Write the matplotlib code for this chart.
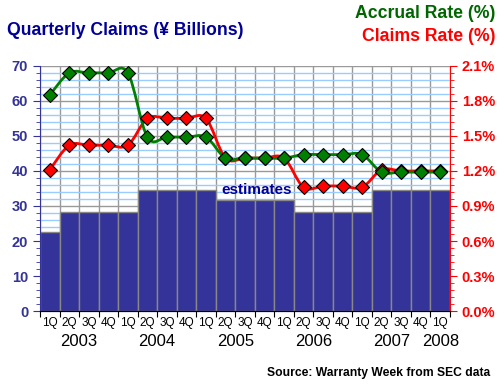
import numpy as np
import matplotlib.pyplot as plt
from matplotlib.path import Path
from matplotlib.patches import PathPatch

plt.rcParams['font.family'] = ['Liberation Sans', 'DejaVu Sans']

quarters = ['1Q', '2Q', '3Q', '4Q'] * 5 + ['1Q']
years = ['2003', '2004', '2005', '2006', '2007', '2008']
claims = [22.6, 28.3, 28.3, 28.3, 28.3, 34.6, 34.6, 34.6, 34.6, 31.7, 31.7,
          31.7, 31.7, 28.4, 28.4, 28.4, 28.4, 34.6, 34.6, 34.6, 34.6]
accrual = [1.85, 2.04, 2.04, 2.04, 2.04, 1.49, 1.49, 1.49, 1.49, 1.31, 1.31,
           1.31, 1.31, 1.34, 1.34, 1.34, 1.34, 1.19, 1.19, 1.19, 1.19]
claims_rate = [1.21, 1.42, 1.42, 1.42, 1.42, 1.65, 1.65, 1.65, 1.65, 1.31, 1.31,
               1.31, 1.31, 1.06, 1.07, 1.07, 1.06, 1.21, 1.20, 1.20, 1.20]

navy = '#333399'
fig = plt.figure(figsize=(5, 3.85), dpi=100)
ax = fig.add_axes([0.08, 0.192, 0.82, 0.637])
x = np.arange(len(claims))

ax.bar(x, claims, width=1.0, color=navy, edgecolor='#888888', linewidth=1, zorder=2)
ax.set_xlim(-0.5, len(claims) - 0.5)
ax.set_ylim(0, 70)
ax.set_yticks(range(0, 71, 10))
ax.set_yticks(range(0, 71, 2), minor=True)
ax.grid(True, which='minor', axis='y', color='#99ccff', lw=1, zorder=0)
ax.grid(True, which='major', axis='y', color='#999999', lw=1, zorder=0)
ax.set_xticks(np.arange(-0.5, len(claims), 1))
ax.set_xticklabels([])
ax.grid(True, which='major', axis='x', color='#999999', lw=1, zorder=0)
ax.set_axisbelow(True)
ax.tick_params(axis='y', which='both', colors=navy, labelsize=10.5, direction='out')
ax.tick_params(axis='y', which='major', length=5)
ax.tick_params(axis='y', which='minor', length=3)
ax.tick_params(axis='x', length=4, color='black')
for lab in ax.get_yticklabels():
    lab.set_fontweight('bold')
ax.spines['left'].set_color(navy)
ax.spines['right'].set_visible(False)
ax.spines['top'].set_visible(False)

for i, q in enumerate(quarters):
    ax.text(i, -1.6, q, ha='center', va='top', fontsize=8.5)
for j, yr in enumerate(years):
    xc = 4 * j + 1.5 if j < 5 else 20
    ax.text(xc, -6.6, yr, ha='center', va='top', fontsize=12)

ax.text(8.8, 34.6, 'estimates', ha='left', va='center', fontsize=11,
        fontweight='bold', color='#000099', zorder=5)

ax2 = ax.twinx()
ax2.set_ylim(0, 2.1)
ax2.set_yticks(np.arange(0, 2.11, 0.3))
ax2.set_yticks(np.arange(0, 2.11, 0.06), minor=True)
ax2.set_yticklabels(['%.1f%%' % v for v in np.arange(0, 2.11, 0.3)])
ax2.tick_params(axis='y', which='both', colors='red', labelsize=10.5)
ax2.tick_params(axis='y', which='major', length=5)
ax2.tick_params(axis='y', which='minor', length=3)
for lab in ax2.get_yticklabels():
    lab.set_fontweight('bold')
ax2.spines['right'].set_color('red')
ax2.spines['left'].set_visible(False)
ax2.spines['top'].set_visible(False)


def smooth(axis, xs, ys, color):
    # bezier path through the points (Excel style smoothed line)
    xs = list(xs)
    ys = list(ys)
    n = len(xs)
    verts = [(xs[0], ys[0])]
    codes = [Path.MOVETO]
    for i in range(n - 1):
        i0 = max(i - 1, 0)
        i3 = min(i + 2, n - 1)
        c1 = (xs[i] + (xs[i + 1] - xs[i0]) / 6, ys[i] + (ys[i + 1] - ys[i0]) / 6)
        c2 = (xs[i + 1] - (xs[i3] - xs[i]) / 6, ys[i + 1] - (ys[i3] - ys[i]) / 6)
        verts += [c1, c2, (xs[i + 1], ys[i + 1])]
        codes += [Path.CURVE4] * 3
    axis.add_patch(PathPatch(Path(verts, codes), fill=False, edgecolor=color, lw=2, zorder=3))


smooth(ax2, x, claims_rate, 'red')
ax2.plot(x, claims_rate, ls='none', marker='D', ms=7.5, mfc='red', mec='black', mew=0.8, zorder=4)
smooth(ax2, x, accrual, '#008000')
ax2.plot(x, accrual, ls='none', marker='D', ms=7.5, mfc='#008000', mec='black', mew=0.8, zorder=4)

fig.text(0.014, 0.922, 'Quarterly Claims (\u00a5 Billions)', fontsize=12.7, fontweight='bold',
         color='#000099', va='center', ha='left')
fig.text(0.99, 0.966, 'Accrual Rate (%)', fontsize=12.7, fontweight='bold',
         color='#006600', va='center', ha='right')
fig.text(0.99, 0.906, 'Claims Rate (%)', fontsize=12.7, fontweight='bold',
         color='red', va='center', ha='right')
fig.text(0.98, 0.03, 'Source: Warranty Week from SEC data', fontsize=8.7, fontweight='bold',
         color='black', va='center', ha='right')

fig.savefig('out.png', dpi=100)
